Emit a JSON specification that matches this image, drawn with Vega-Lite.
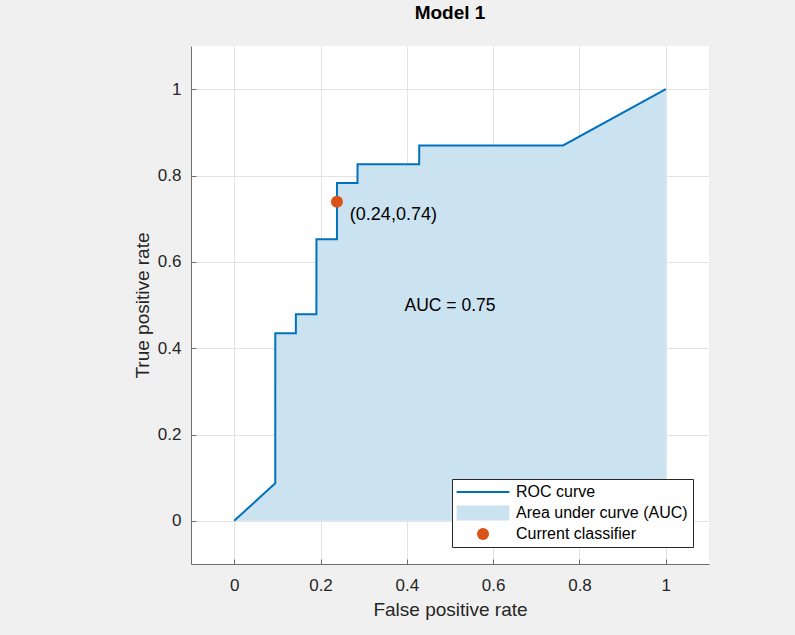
{
  "$schema": "https://vega.github.io/schema/vega-lite/v6.json",
  "width": 518,
  "height": 518,
  "autosize": {"type": "none"},
  "padding": {"left": 191, "top": 46, "right": 86, "bottom": 71},
  "background": "#f0f0f0",
  "title": {
    "text": "Model 1",
    "fontSize": 19,
    "fontWeight": "bold",
    "font": "Liberation Sans",
    "color": "#000000",
    "anchor": "middle",
    "frame": "group",
    "baseline": "alphabetic",
    "offset": 8
  },
  "config": {
    "view": {"fill": "white", "stroke": null},
    "axis": {
      "domainColor": "#6e6e6e",
      "tickColor": "#6e6e6e",
      "domainWidth": 1,
      "tickWidth": 1,
      "tickSize": -5,
      "labelFont": "Liberation Sans",
      "labelFontSize": 17,
      "labelColor": "#262626",
      "titleFont": "Liberation Sans",
      "titleFontSize": 19,
      "titleFontWeight": "normal",
      "titleColor": "#262626",
      "gridColor": "#e3e3e3",
      "gridWidth": 1
    },
    "axisX": {"labelPadding": 18, "titlePadding": 7},
    "axisY": {"labelPadding": 15, "titlePadding": 5}
  },
  "datasets": {
    "roc": [
      {"order": 0, "fpr": 0, "tpr": 0},
      {"order": 1, "fpr": 0.0952, "tpr": 0.087},
      {"order": 2, "fpr": 0.0953, "tpr": 0.4348},
      {"order": 3, "fpr": 0.1429, "tpr": 0.4348},
      {"order": 4, "fpr": 0.143, "tpr": 0.4783},
      {"order": 5, "fpr": 0.1905, "tpr": 0.4783},
      {"order": 6, "fpr": 0.1906, "tpr": 0.6522},
      {"order": 7, "fpr": 0.2381, "tpr": 0.6522},
      {"order": 8, "fpr": 0.2382, "tpr": 0.7826},
      {"order": 9, "fpr": 0.2857, "tpr": 0.7826},
      {"order": 10, "fpr": 0.2858, "tpr": 0.8261},
      {"order": 11, "fpr": 0.4286, "tpr": 0.8261},
      {"order": 12, "fpr": 0.4287, "tpr": 0.8696},
      {"order": 13, "fpr": 0.7619, "tpr": 0.8696},
      {"order": 14, "fpr": 1, "tpr": 1}
    ],
    "current": [
      {"fpr": 0.2381, "tpr": 0.7391, "series": "Current classifier"}
    ]
  },
  "encoding": {
    "x": {
      "field": "fpr",
      "type": "quantitative",
      "scale": {"domain": [-0.1, 1.1], "nice": false, "zero": false},
      "axis": {
        "title": "False positive rate",
        "values": [0, 0.2, 0.4, 0.6, 0.8, 1],
        "format": "~g",
        "grid": true
      }
    },
    "y": {
      "field": "tpr",
      "type": "quantitative",
      "scale": {"domain": [-0.1, 1.1], "nice": false, "zero": false},
      "axis": {
        "title": "True positive rate",
        "values": [0, 0.2, 0.4, 0.6, 0.8, 1],
        "format": "~g",
        "grid": true
      }
    }
  },
  "layer": [
    {
      "data": {"name": "roc"},
      "mark": {"type": "area", "fill": "#cbe2f1", "opacity": 1, "orient": "vertical"}
    },
    {
      "data": {"name": "roc"},
      "mark": {"type": "line", "color": "#0072BD", "strokeWidth": 2},
      "encoding": {
        "order": {"field": "order", "type": "quantitative"}
      }
    },
    {
      "data": {"name": "current"},
      "mark": {"type": "point", "filled": true, "opacity": 1, "size": 144, "strokeWidth": 0},
      "encoding": {
        "color": {
          "field": "series",
          "type": "nominal",
          "scale": {
            "domain": ["ROC curve", "Area under curve (AUC)", "Current classifier"],
            "range": ["#0072BD", "#cbe2f1", "#D95319"]
          },
          "legend": {
            "title": null,
            "orient": "none",
            "legendX": 261,
            "legendY": 433,
            "fillColor": "white",
            "strokeColor": "#262626",
            "padding": 5,
            "symbolSize": 144,
            "symbolOffset": 18,
            "symbolStrokeWidth": 0,
            "labelOffset": 25,
            "labelLimit": 0,
            "labelFont": "Liberation Sans",
            "labelFontSize": 16,
            "labelColor": "#000000",
            "rowPadding": 5
          }
        },
        "shape": {
          "field": "series",
          "type": "nominal",
          "scale": {
            "domain": ["ROC curve", "Area under curve (AUC)", "Current classifier"],
            "range": ["M-4.4,-0.17H4.4V0.17H-4.4Z", "M-4.4,-1.25H4.4V1.25H-4.4Z", "circle"]
          },
          "legend": {
            "title": null,
            "orient": "none",
            "legendX": 261,
            "legendY": 433,
            "fillColor": "white",
            "strokeColor": "#262626",
            "padding": 5,
            "symbolSize": 144,
            "symbolOffset": 18,
            "symbolStrokeWidth": 0,
            "labelOffset": 25,
            "labelLimit": 0,
            "labelFont": "Liberation Sans",
            "labelFontSize": 16,
            "labelColor": "#000000",
            "rowPadding": 5
          }
        }
      }
    },
    {
      "data": {"values": [{"fpr": 0.268, "tpr": 0.709, "label": "(0.24,0.74)"}]},
      "mark": {"type": "text", "align": "left", "baseline": "middle", "font": "Liberation Sans", "fontSize": 18, "color": "#000000"},
      "encoding": {"text": {"field": "label"}}
    },
    {
      "data": {"values": [{"fpr": 0.5, "tpr": 0.498, "label": "AUC = 0.75"}]},
      "mark": {"type": "text", "align": "center", "baseline": "middle", "font": "Liberation Sans", "fontSize": 17.5, "color": "#000000"},
      "encoding": {"text": {"field": "label"}}
    }
  ]
}
